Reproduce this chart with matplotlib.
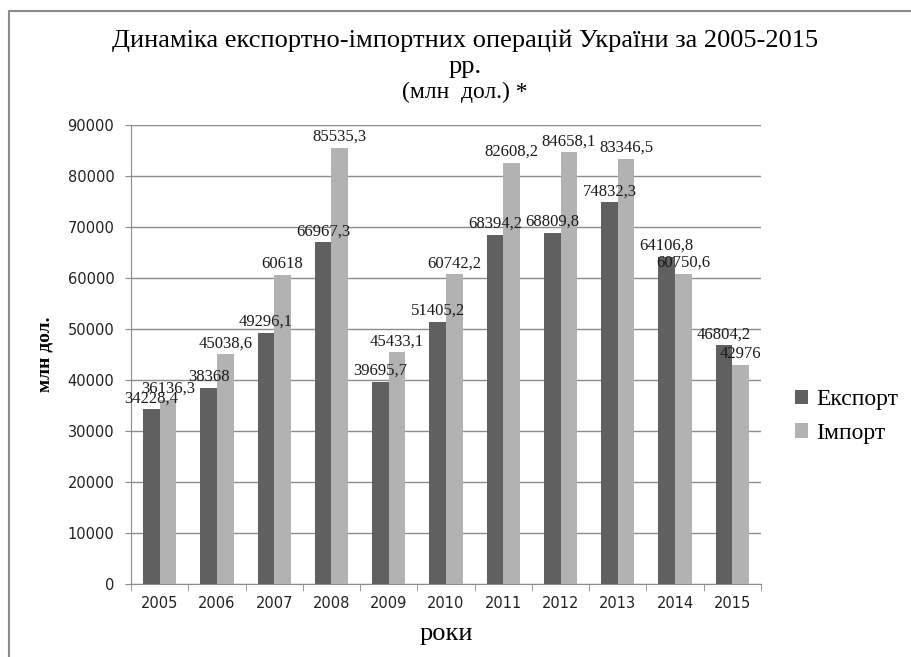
import matplotlib.pyplot as plt
from matplotlib.lines import Line2D
import numpy as np

years = ['2005', '2006', '2007', '2008', '2009', '2010', '2011', '2012', '2013', '2014', '2015']
export = [34228.4, 38368, 49296.1, 66967.3, 39695.7, 51405.2, 68394.2, 68809.8, 74832.3, 64106.8, 46804.2]
imports = [36136.3, 45038.6, 60618, 85535.3, 45433.1, 60742.2, 82608.2, 84658.1, 83346.5, 60750.6, 42976]

SERIF = 'Liberation Serif'
DARK = '#606060'
LIGHT = '#b2b2b2'
GRID = '#8c8c8c'

fig = plt.figure(figsize=(9.12, 6.57), dpi=100)
ax = fig.add_axes([131 / 912, 1 - 584 / 657, 630 / 912, 459 / 657])

x = np.arange(len(years))
w = 0.29
ax.bar(x - w / 2, export, w, color=DARK, label='Експорт', zorder=3)
ax.bar(x + w / 2, imports, w, color=LIGHT, label='Імпорт', zorder=3)

def lbl(v):
    return ('%g' % v).replace('.', ',')

for i in range(len(years)):
    ax.text(x[i] - w / 2, export[i] + 600, lbl(export[i]), ha='center', va='bottom',
            family=SERIF, fontsize=12, color='#1a1a1a', zorder=4)
    ax.text(x[i] + w / 2, imports[i] + 600, lbl(imports[i]), ha='center', va='bottom',
            family=SERIF, fontsize=12, color='#1a1a1a', zorder=4)

ax.set_xlim(-0.5, len(years) - 0.5)
ax.set_ylim(0, 90000)
ax.set_yticks(range(0, 90001, 10000))
ax.yaxis.grid(True, color=GRID, lw=1, zorder=0)

ax.set_xticks(x)
ax.set_xticklabels(years)
ax.set_xticks(np.arange(-0.5, len(years)), minor=True)
ax.tick_params(axis='x', which='major', length=0, pad=9, labelsize=10.5, labelcolor='#222222')
ax.tick_params(axis='x', which='minor', length=5, color=GRID, direction='out')
ax.tick_params(axis='y', length=4, color=GRID, pad=8, labelsize=10.5, labelcolor='#222222')

for s in ['top', 'right']:
    ax.spines[s].set_visible(False)
for s in ['left', 'bottom']:
    ax.spines[s].set_color(GRID)

ax.set_xlabel('роки', family=SERIF, fontsize=19, labelpad=8)
ax.set_ylabel('млн дол.', family=SERIF, fontsize=14, fontweight='bold', labelpad=10)

fig.text(465 / 912, 1 - 41 / 657, 'Динаміка експортно-імпортних операцій України за 2005-2015',
         ha='center', va='center', family=SERIF, fontsize=19)
fig.text(465 / 912, 1 - 67 / 657, 'рр.', ha='center', va='center', family=SERIF, fontsize=19)
fig.text(465 / 912, 1 - 92 / 657, '(млн  дол.) *', ha='center', va='center', family=SERIF, fontsize=17)

leg = ax.legend(loc='center left', bbox_to_anchor=(1.02, 0.365), frameon=False,
                prop={'family': SERIF, 'size': 17}, handlelength=0.55, handleheight=0.55,
                handletextpad=0.35, labelspacing=0.55)

# outer frame
fig.add_artist(Line2D([9 / 912, 9 / 912, 1.0], [0, 1 - 11 / 657, 1 - 11 / 657],
                      transform=fig.transFigure, color='#8a8a8a', lw=1.5))

plt.savefig('out.png')
